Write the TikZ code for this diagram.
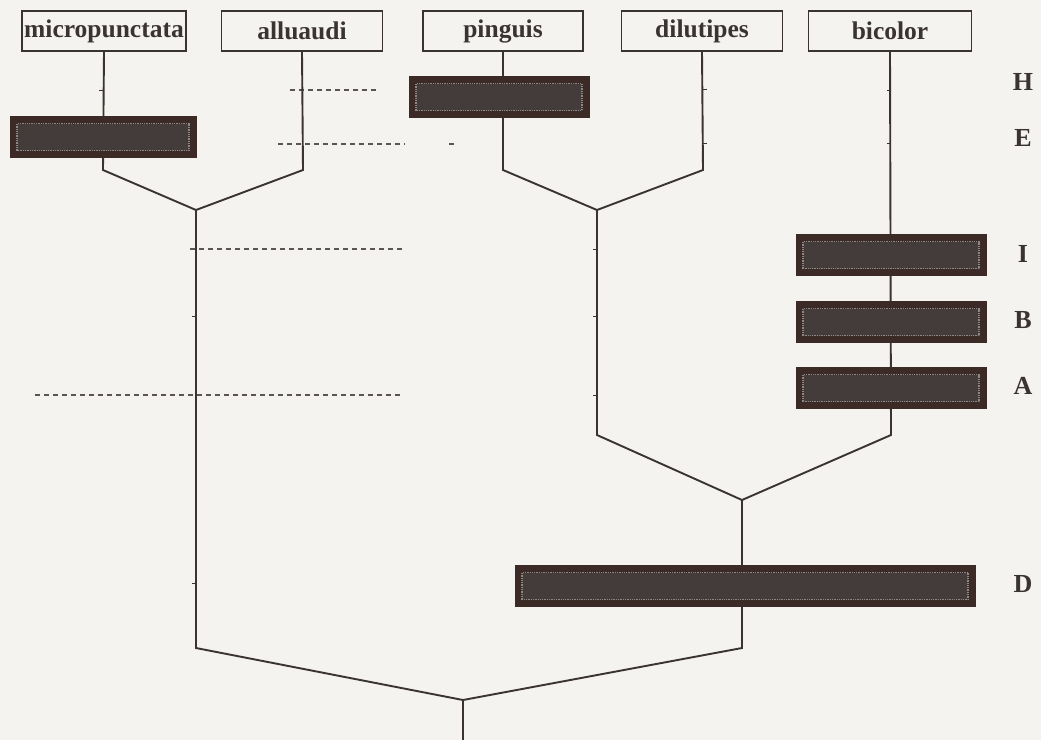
\documentclass[tikz,border=0pt]{standalone}
\usepackage{fontspec}
\setmainfont{Liberation Serif}
\definecolor{paper}{HTML}{F4F3EF}
\definecolor{ink}{HTML}{3A3331}
\definecolor{bardark}{HTML}{3B2A26}
\definecolor{barin}{HTML}{443C3A}
\definecolor{barspeck}{HTML}{8E8886}
\definecolor{dashgray}{HTML}{5A5553}
\begin{document}
\begin{tikzpicture}[x=1pt,y=-1pt,
  taxon/.style={draw=ink,line width=1.7pt,minimum height=40pt,inner sep=0pt,
    font=\fontsize{25.5}{25.5}\selectfont\bfseries,text=ink},
  bar/.style={fill=bardark,draw=bardark,minimum height=41pt,inner sep=0pt,
    path picture={\draw[barspeck,densely dotted,line width=1.3pt,fill=barin]
      ([shift={(7pt,7pt)}]path picture bounding box.south west) rectangle
      ([shift={(-7pt,-7pt)}]path picture bounding box.north east);}},
  letter/.style={font=\fontsize{26}{26}\selectfont\bfseries,text=ink},
  branch/.style={draw=ink,line width=1.9pt,line join=miter},
  guide/.style={draw=dashgray,line width=1.1pt,dash pattern=on 5pt off 4pt},
  tick/.style={draw=ink,line width=1pt}]
\fill[paper] (0,0) rectangle (1041,740);
\useasboundingbox (0,0) rectangle (1041,740);

% taxa
\node[taxon,minimum width=164pt] (mic) at (104,31) {micropunctata};
\node[taxon,minimum width=161pt] (all) at (302,31) {alluaudi};
\node[taxon,minimum width=160pt] (pin) at (503,31) {pinguis};
\node[taxon,minimum width=161pt] (dil) at (702,31) {dilutipes};
\node[taxon,minimum width=163pt] (bic) at (890,31) {bicolor};

% junctions
\coordinate (mk) at (103,170);
\coordinate (ak) at (303,170);
\coordinate (pk) at (503,170);
\coordinate (dk) at (703,170);
\coordinate (j1) at (196,210);
\coordinate (j2) at (597,210);
\coordinate (j2k) at (597,435);
\coordinate (bk) at (891,435);
\coordinate (j3) at (742,500);
\coordinate (j1k) at (196,648);
\coordinate (j3k) at (742,648);
\coordinate (j4) at (463,700);
\coordinate (root) at (463,740);

% guide dashes
\draw[guide] (290,90) -- (378,90);
\draw[guide] (278,144) -- (405,144);
\draw[guide] (449,144) -- (455,144);
\draw[guide] (190,249) -- (402,249);
\draw[guide] (35,395) -- (402,395);

% branches
\draw[branch] (mic.south) -- (mk) -- (j1);
\draw[branch] (all.south) -- (ak) -- (j1);
\draw[branch] (pin.south) -- (pk) -- (j2);
\draw[branch] (dil.south) -- (dk) -- (j2);
\draw[branch] (j2) -- (j2k) -- (j3);
\draw[branch] (bic.south) -- (bk) -- (j3);
\draw[branch] (j1) -- (j1k) -- (j4);
\draw[branch] (j3) -- (j3k) -- (j4);
\draw[branch] (j4) -- (root);

% small ticks
\draw[tick] (99,90) -- (103,90);
\draw[tick] (703,89) -- (707,89);
\draw[tick] (703,143) -- (707,143);
\draw[tick] (887,90) -- (891,90);
\draw[tick] (887,143) -- (891,143);
\draw[tick] (192,316) -- (196,316);
\draw[tick] (192,583) -- (196,583);
\draw[tick] (593,249) -- (597,249);
\draw[tick] (593,316) -- (597,316);
\draw[tick] (593,395) -- (597,395);

% character bars
\node[bar,minimum width=186pt] (barE) at (103,137) {};
\node[bar,minimum width=180pt] (barH) at (499,97) {};
\node[bar,minimum width=190pt] (barI) at (891,255) {};
\node[bar,minimum width=190pt] (barB) at (891,322) {};
\node[bar,minimum width=190pt] (barA) at (891,388) {};
\node[bar,minimum width=460pt] (barD) at (745,586) {};

% letters
\node[letter] (lH) at (1023,82) {H};
\node[letter] (lE) at (1023,138) {E};
\node[letter] (lI) at (1023,254) {I};
\node[letter] (lB) at (1023,320) {B};
\node[letter] (lA) at (1023,386) {A};
\node[letter] (lD) at (1023,584) {D};
\end{tikzpicture}
\end{document}
